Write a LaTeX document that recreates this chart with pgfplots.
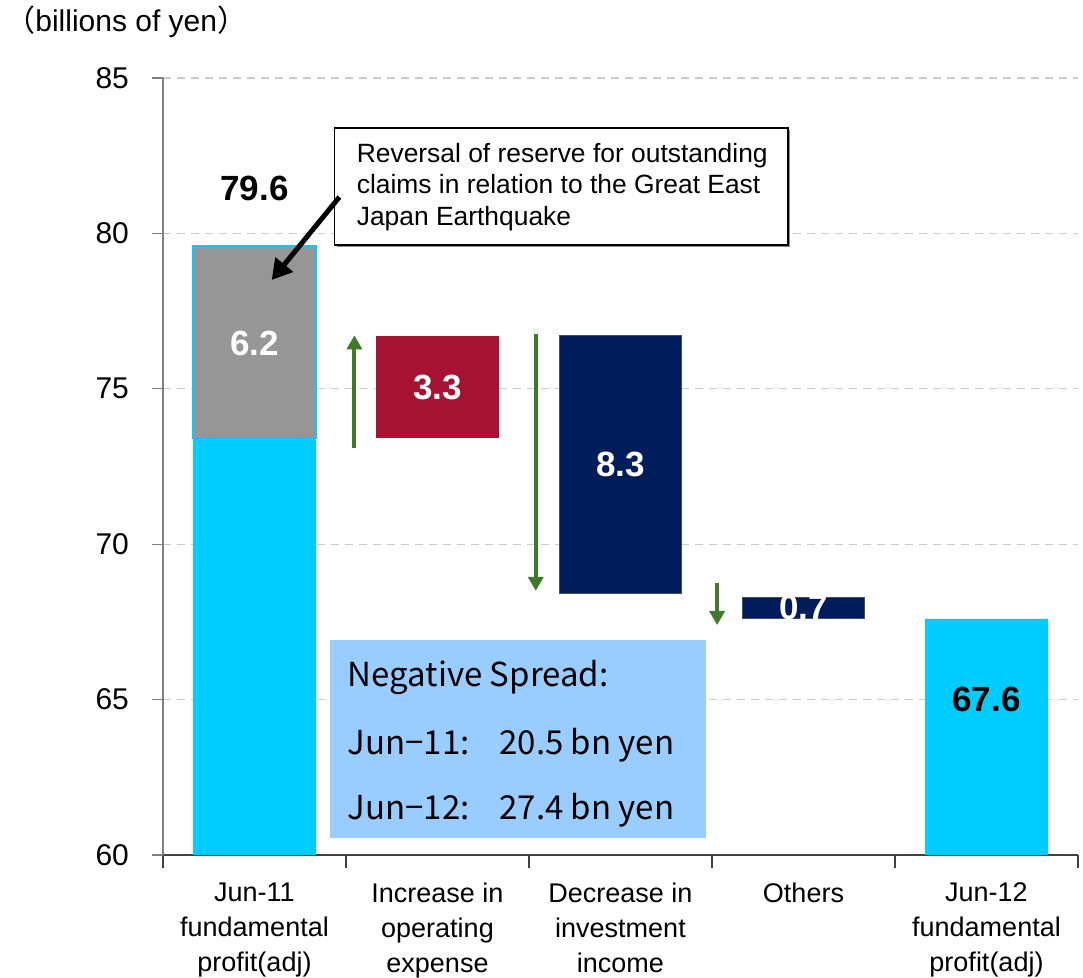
\documentclass[border=0pt]{standalone}
\usepackage{pgfplots}
\pgfplotsset{compat=1.18}
\usepackage{fontspec}
\setmainfont{Liberation Sans}
\newfontfamily\cjk{Noto Sans CJK JP}
\usetikzlibrary{arrows.meta}
\definecolor{cy}{HTML}{00CCFF}
\definecolor{gr}{HTML}{969696}
\definecolor{cr}{HTML}{A81232}
\definecolor{nv}{HTML}{001C5A}
\definecolor{lb}{HTML}{99CCFF}
\definecolor{ag}{HTML}{3F7A2C}
\begin{document}
\begin{tikzpicture}
\path[use as bounding box] (-81.5pt,-61.5pt) rectangle (460pt,427.5pt);
\begin{axis}[
  at={(0,0)}, anchor=south west,
  scale only axis, width=457.5pt, height=388.5pt,
  ybar stacked, stacked ignores zero, bar width=0.67,
  xmin=-0.5, xmax=4.5, ymin=60, ymax=85,
  axis x line*=bottom, axis y line*=left,
  tick align=outside, major tick length=5.5pt, minor tick length=6.5pt,
  ytick={60,65,...,85},
  xtick={0,...,4},
  xticklabels={{Jun-11\\fundamental\\profit(adj)},{Increase in\\operating\\expense},{Decrease in\\investment\\income},{Others},{Jun-12\\fundamental\\profit(adj)}},
  minor xtick={-0.5,0.5,...,4.5},
  major x tick style={draw=none},
  minor x tick style={draw=black!75, line width=0.6pt},
  major y tick style={draw=gray, line width=0.6pt},
  x axis line style={draw=black!75, line width=0.6pt, -},
  y axis line style={draw=gray, line width=0.6pt, -},
  ymajorgrids, grid style={draw=gray!40, line width=0.6pt, dash pattern=on 4pt off 3pt},
  /pgf/number format/assume math mode=true,
  yticklabel style={font=\fontsize{15}{18}\selectfont, xshift=-8pt},
  xticklabel style={font=\fontsize{13.5}{17.5}\selectfont, align=center, anchor=north, yshift=-5pt},
]
\addplot[fill=cy, draw=none] coordinates {(0,73.4) (1,0) (2,0) (3,0) (4,67.6)};
\addplot[fill=none, draw=none] coordinates {(0,0) (1,73.4) (2,68.4) (3,67.6) (4,0)};
\addplot[fill=gr, draw=cy, line width=1pt] coordinates {(0,6.2) (1,0) (2,0) (3,0) (4,0)};
\addplot[fill=cr, draw=none] coordinates {(0,0) (1,3.3) (2,0) (3,0) (4,0)};
\addplot[fill=nv, draw=black!70, line width=0.5pt] coordinates {(0,0) (1,0) (2,8.3) (3,0.7) (4,0)};

% anchor coordinates for annotations
\coordinate (L1) at (axis cs:0,81.46);
\coordinate (L2) at (axis cs:0,76.47);
\coordinate (L3) at (axis cs:1,75.03);
\coordinate (L4) at (axis cs:2,72.55);
\coordinate (L5) at (axis cs:3,67.98);
\coordinate (L6) at (axis cs:4,64.99);
\coordinate (A1s) at (axis cs:0.546,73.1);
\coordinate (A1e) at (axis cs:0.546,76.72);
\coordinate (A2s) at (axis cs:1.537,76.75);
\coordinate (A2e) at (axis cs:1.537,68.5);
\coordinate (A3s) at (axis cs:2.528,68.75);
\coordinate (A3e) at (axis cs:2.528,67.4);
\coordinate (B1a) at (axis cs:0.437,79.63);
\coordinate (B1b) at (axis cs:2.915,83.39);
\coordinate (B1t) at (axis cs:0.557,81.50);
\coordinate (Ks) at (axis cs:0.464,81.17);
\coordinate (Ke) at (axis cs:0.094,78.50);
\coordinate (B2a) at (axis cs:0.41,60.55);
\coordinate (B2b) at (axis cs:2.468,66.92);
\coordinate (T1) at (axis cs:0.508,65.695);
\coordinate (T2) at (axis cs:0.508,63.54);
\coordinate (T3) at (axis cs:0.508,61.45);
\end{axis}

% value labels
\node[font=\bfseries\fontsize{17.5}{20}\selectfont] at (L1) {79.6};
\node[font=\bfseries\fontsize{17.5}{20}\selectfont, text=white] at (L2) {6.2};
\node[font=\bfseries\fontsize{17.5}{20}\selectfont, text=white] at (L3) {3.3};
\node[font=\bfseries\fontsize{17.5}{20}\selectfont, text=white] at (L4) {8.3};
\node[font=\bfseries\fontsize{17.5}{20}\selectfont, text=white] at (L5) {0.7};
\node[font=\bfseries\fontsize{17.5}{20}\selectfont] at (L6) {67.6};

% green arrows
\draw[ag, line width=2pt, -{Triangle[width=7.5pt,length=7pt]}] (A1s) -- (A1e);
\draw[ag, line width=2pt, -{Triangle[width=7.5pt,length=7pt]}] (A2s) -- (A2e);
\draw[ag, line width=2pt, -{Triangle[width=7.5pt,length=7pt]}] (A3s) -- (A3e);

% annotation box
\fill[black!45] ([shift={(1.2pt,-1.2pt)}]B1a) rectangle ([shift={(1.2pt,-1.2pt)}]B1b);
\draw[fill=white, line width=0.8pt] (B1a) rectangle (B1b);
\node[anchor=west, align=left, inner sep=0pt, font=\fontsize{13.2}{15.75}\selectfont] at (B1t)
  {Reversal of reserve for outstanding\\claims in relation to the Great East\\Japan Earthquake};
\draw[black, line width=2.5pt, -{Triangle[width=11pt,length=10pt]}] (Ks) -- (Ke);

% negative spread box
\fill[lb] (B2a) rectangle (B2b);
\node[anchor=west, inner sep=0pt, font=\cjk\fontsize{16.5}{18}\selectfont] at (T1) {Negative Spread:};
\node[anchor=west, inner sep=0pt, font=\cjk\fontsize{16.5}{18}\selectfont] at (T2) {Jun−11:\hspace{0.9em}20.5 bn yen};
\node[anchor=west, inner sep=0pt, font=\cjk\fontsize{16.5}{18}\selectfont] at (T3) {Jun−12:\hspace{0.9em}27.4 bn yen};

\node[anchor=west, inner sep=0pt, font=\fontsize{15}{18}\selectfont] at (-79pt,416.5pt) {{\cjk （}billions of yen{\cjk ）}};
\end{tikzpicture}
\end{document}
